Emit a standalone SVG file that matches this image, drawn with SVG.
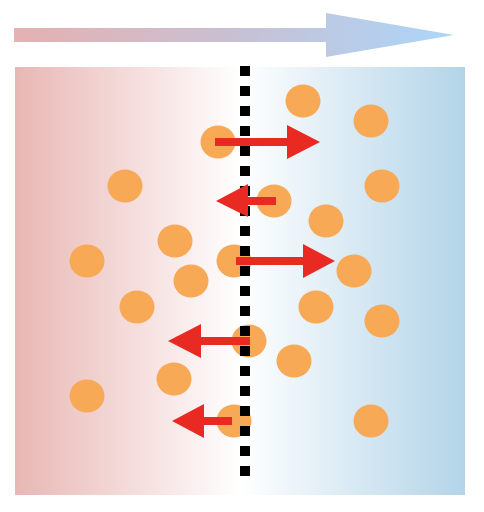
<svg xmlns="http://www.w3.org/2000/svg" width="484" height="512" viewBox="0 0 484 512">
<defs>
<linearGradient id="topGrad" x1="14" y1="0" x2="454" y2="0" gradientUnits="userSpaceOnUse">
<stop offset="0" stop-color="#e5b1b1"/>
<stop offset="0.5" stop-color="#c8c0d3"/>
<stop offset="1" stop-color="#acd6f9"/>
</linearGradient>
<linearGradient id="boxGrad" x1="15" y1="0" x2="465" y2="0" gradientUnits="userSpaceOnUse">
<stop offset="0" stop-color="#e8b7b4"/>
<stop offset="0.5" stop-color="#ffffff"/>
<stop offset="1" stop-color="#b3d4e8"/>
</linearGradient>
<style>
.p{fill:#f7a955}
.ar{fill:#e92a22}
.dot{fill:#000}
</style>
</defs>
<rect width="484" height="512" fill="#fff"/>
<g id="gradient-arrow">
<polygon points="14,28 326,28 326,13 454,35 326,57 326,42 14,42" fill="url(#topGrad)"/>
</g>
<g id="container">
<rect x="15" y="67" width="450" height="428" fill="url(#boxGrad)"/>
</g>
<g id="particles">
<ellipse class="p" cx="303" cy="101" rx="17.5" ry="16.5"/>
<ellipse class="p" cx="371" cy="121" rx="17.5" ry="16.5"/>
<ellipse class="p" cx="218" cy="142" rx="17.5" ry="16.5"/>
<ellipse class="p" cx="125" cy="186" rx="17.5" ry="16.5"/>
<ellipse class="p" cx="382" cy="186" rx="17.5" ry="16.5"/>
<ellipse class="p" cx="274" cy="201" rx="17.5" ry="16.5"/>
<ellipse class="p" cx="326" cy="221" rx="17.5" ry="16.5"/>
<ellipse class="p" cx="175" cy="241" rx="17.5" ry="16.5"/>
<ellipse class="p" cx="87" cy="261" rx="17.5" ry="16.5"/>
<ellipse class="p" cx="234" cy="261" rx="17.5" ry="16.5"/>
<ellipse class="p" cx="354" cy="271" rx="17.5" ry="16.5"/>
<ellipse class="p" cx="191" cy="281" rx="17.5" ry="16.5"/>
<ellipse class="p" cx="137" cy="307" rx="17.5" ry="16.5"/>
<ellipse class="p" cx="316" cy="307" rx="17.5" ry="16.5"/>
<ellipse class="p" cx="382" cy="321" rx="17.5" ry="16.5"/>
<ellipse class="p" cx="249" cy="341" rx="17.5" ry="16.5"/>
<ellipse class="p" cx="294" cy="361" rx="17.5" ry="16.5"/>
<ellipse class="p" cx="174" cy="379" rx="17.5" ry="16.5"/>
<ellipse class="p" cx="87" cy="396" rx="17.5" ry="16.5"/>
<ellipse class="p" cx="234" cy="421" rx="17.5" ry="16.5"/>
<ellipse class="p" cx="371" cy="421" rx="17.5" ry="16.5"/>
</g>
<g id="membrane">
<line x1="245" y1="66" x2="245" y2="476" stroke="#000" stroke-width="10" stroke-dasharray="10 10"/>
</g>
<g id="connectors">
<polygon class="ar" points="215,138 287,138 287,125 320,142 287,159 287,146 215,146"/>
<polygon class="ar" points="276,197 248,197 248,184 216,201 248,217 248,205 276,205"/>
<polygon class="ar" points="236,257 303,257 303,244 335,261 303,278 303,265 236,265"/>
<polygon class="ar" points="250,337 201,337 201,324 168,341 201,358 201,345 250,345"/>
<polygon class="ar" points="232,417 204,417 204,404 172,421 204,438 204,425 232,425"/>
</g>
</svg>
